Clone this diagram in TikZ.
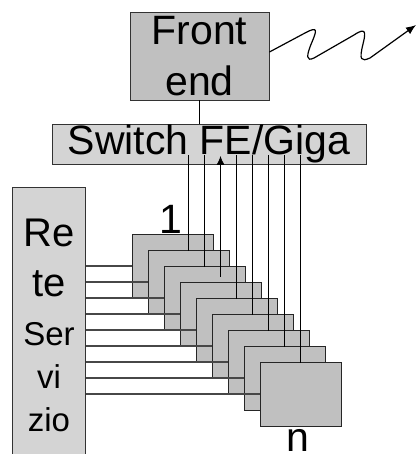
\documentclass[tikz,border=0pt]{standalone}
\usepackage{fontspec}
\setmainfont{Liberation Sans}
\usetikzlibrary{arrows.meta}
\definecolor{cardgray}{RGB}{192,192,192}
\definecolor{panelgray}{RGB}{212,212,212}
\begin{document}
\begin{tikzpicture}[x=1pt,y=-1pt,
  box/.style={draw=black!80, line width=0.9pt, inner sep=0pt},
  card/.style={draw=black!85, fill=cardgray, line width=1pt,
    minimum width=81pt, minimum height=64pt, inner sep=0pt},
  feed/.style={draw=black!72, line width=1.2pt},
  wire/.style={draw=black, line width=0.8pt},
  big/.style={font=\fontsize{41}{50.6}\selectfont},
  mid/.style={font=\fontsize{40}{40}\selectfont, anchor=base},
  small/.style={font=\fontsize{33}{33}\selectfont, anchor=base}
]
\useasboundingbox (0,0) rectangle (417,454);

% front end and switch
\node[box, fill=cardgray, big, align=center,
  minimum width=139pt, minimum height=88pt] (front) at (199.5,56) {Front\\end};
\node[box, fill=panelgray, big,
  minimum width=314pt, minimum height=40pt] (sw) at (209,144) {Switch FE/Giga};

% service network panel (runs off the bottom edge)
\node[fill=panelgray, inner sep=0pt,
  minimum width=72.6pt, minimum height=266pt] (rete) at (49,321) {};
\draw[line width=0.9pt, draw=black!80]
  (rete.south west) -- (rete.north west) -- (rete.north east) -- (rete.south east);
\node[mid] (r1) at (49,246.7) {Re};
\node[mid] (r2) at (49,296.7) {te};
\node[small] (r3) at (49,345) {Ser};
\node[small] (r4) at (49,388.3) {vi};
\node[small] (r5) at (49,431.7) {zio};

% stacked server cards
\foreach \i in {0,...,8}
  \node[card] (sq\i) at ({172.5+16*\i},{266+16*\i}) {};

% links from the service network
\foreach \i in {0,...,8}
  \draw[feed] (rete.east |- sq\i.west) -- (sq\i.west);

% links up to the switch
\coordinate (tap) at (209,155);
\foreach \j in {1,2,4,5,6,7,8}
  \draw[wire] (tap -| sq\j.north) -- ([yshift=-1.5pt]sq\j.north);
\coordinate (tip) at (209,156);
\draw[wire, -{Latex[length=9pt,width=8pt]}]
  ([yshift=5pt]sq3.north) -- (tip -| sq3.north);

% front end to switch
\draw[wire] (front.south) -- (front.south |- sw.north);

% radio link
\coordinate (wave) at ([yshift=4pt]front.east);
\coordinate (far) at (416,25);
\draw[draw=black, line width=1.2pt, -{Latex[length=10pt,width=8pt]}]
  (wave) -- (305,33)
  .. controls (318,26) and (317,30) .. (312,42)
  .. controls (306,56) and (306,62) .. (314,58)
  -- (354,35)
  .. controls (366,27) and (366,32) .. (363,44)
  .. controls (359,60) and (361,62) .. (370,58)
  -- (far);

% card labels
\node[big, anchor=base] (one) at (171,233) {1};
\node[big, anchor=base] (enn) at (298,451) {n};
\end{tikzpicture}
\end{document}
